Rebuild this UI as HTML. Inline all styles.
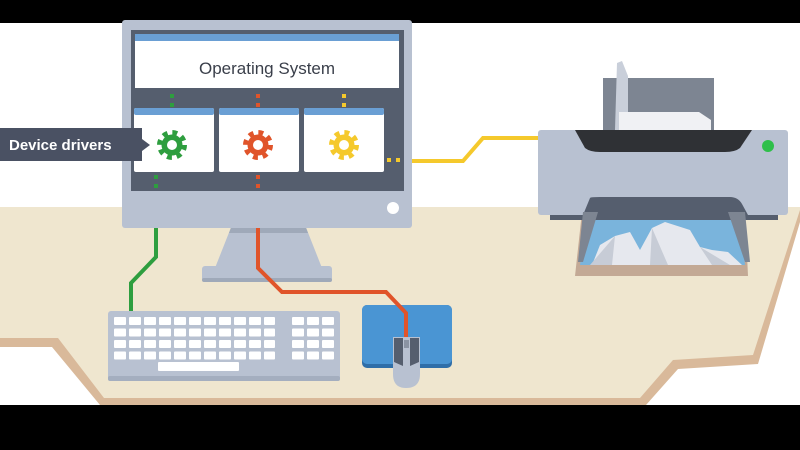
<!DOCTYPE html>
<html><head><meta charset="utf-8"><style>
html,body{margin:0;padding:0;background:#000;}
svg{display:block}
</style></head><body>
<svg width="800" height="450" viewBox="0 0 800 450" xmlns="http://www.w3.org/2000/svg">
<rect x="0" y="23" width="800" height="382" fill="#ffffff"/>
<!-- desk -->
<path d="M0,207 L800,207 L800,222 L758,364 L678,369 L646,405 L100,405 L52,347 L0,347 Z" fill="#d9b99a"/>
<path d="M0,207 L800,207 L800,210 L753,355 L673,360 L640,398 L104,398 L58,338 L0,338 Z" fill="#efe6cf"/>
<!-- monitor stand -->
<path d="M232,225 L305,225 L322,268 L215,268 Z" fill="#b8c1d1"/>
<path d="M232,225 L305,225 L308,233 L229,233 Z" fill="#9fa9b9"/>
<rect x="202" y="266" width="130" height="16" rx="3" fill="#b8c1d1"/>
<rect x="202" y="278" width="130" height="4" rx="2" fill="#9fa9b9"/>
<!-- mousepad -->
<rect x="362" y="305" width="90" height="63" rx="5" fill="#2f6ea8"/>
<rect x="362" y="305" width="90" height="59" rx="5" fill="#4a95d3"/>
<!-- cables -->
<polyline points="156,225 156,257 131,283 131,313" fill="none" stroke="#2e9e3f" stroke-width="4"/>
<polyline points="258,225 258,268 282,292 386,292 406,313 406,345" fill="none" stroke="#e0542a" stroke-width="4"/>
<polyline points="400,161 463,161 483,138 540,138" fill="none" stroke="#f5c92c" stroke-width="4"/>
<!-- monitor -->
<rect x="122" y="20" width="290" height="208" rx="3" fill="#b8c1d1"/>
<rect x="131" y="30" width="273" height="161" fill="#555e6e"/>
<rect x="135" y="34" width="264" height="54" fill="#ffffff"/>
<rect x="135" y="34" width="264" height="7" fill="#6a9fd4"/>
<text x="267" y="74" text-anchor="middle" font-family="Liberation Sans, sans-serif" font-size="17" fill="#3a3f4a">Operating System</text>
<circle cx="393" cy="208" r="6" fill="#fff"/>
<!-- dotted connectors -->
<g stroke-width="4" stroke-dasharray="4,5">
<line x1="172" y1="94" x2="172" y2="108" stroke="#2e9e3f"/>
<line x1="258" y1="94" x2="258" y2="108" stroke="#e0542a"/>
<line x1="344" y1="94" x2="344" y2="108" stroke="#f5c92c"/>
<line x1="156" y1="175" x2="156" y2="191" stroke="#2e9e3f"/>
<line x1="258" y1="175" x2="258" y2="191" stroke="#e0542a"/>
<line x1="387" y1="160" x2="404" y2="160" stroke="#f5c92c"/>
</g>
<!-- driver windows -->
<g>
<rect x="134" y="108" width="80" height="64" rx="2" fill="#fff"/><rect x="134" y="108" width="80" height="7" rx="2" fill="#6a9fd4"/>
<rect x="219" y="108" width="80" height="64" rx="2" fill="#fff"/><rect x="219" y="108" width="80" height="7" rx="2" fill="#6a9fd4"/>
<rect x="304" y="108" width="80" height="64" rx="2" fill="#fff"/><rect x="304" y="108" width="80" height="7" rx="2" fill="#6a9fd4"/>
</g>
<!-- gears -->
<g>
<circle cx="172" cy="145" r="11.5" fill="none" stroke="#2e9e3f" stroke-width="7" stroke-dasharray="4.5,4.53"/>
<circle cx="172" cy="145" r="10.5" fill="#2e9e3f"/><circle cx="172" cy="145" r="5" fill="#fff"/>
<circle cx="258" cy="145" r="11.5" fill="none" stroke="#e0542a" stroke-width="7" stroke-dasharray="4.5,4.53"/>
<circle cx="258" cy="145" r="10.5" fill="#e0542a"/><circle cx="258" cy="145" r="5" fill="#fff"/>
<circle cx="344" cy="145" r="11.5" fill="none" stroke="#f5c92c" stroke-width="7" stroke-dasharray="4.5,4.53"/>
<circle cx="344" cy="145" r="10.5" fill="#f5c92c"/><circle cx="344" cy="145" r="5" fill="#fff"/>
</g>
<!-- label -->
<path d="M0,128 L142,128 L142,139 L150,145 L142,151 L142,161 L0,161 Z" fill="#4a5163"/>
<text x="9" y="150" font-family="Liberation Sans, sans-serif" font-size="15" font-weight="bold" fill="#fff">Device drivers</text>
<!-- keyboard -->
<rect x="108" y="311" width="232" height="70" rx="3" fill="#b8c1d1"/>
<rect x="108" y="376" width="232" height="5" rx="2" fill="#a4aebf"/>
<g fill="#fff">
<g id="row">
<rect x="114" y="317" width="12" height="8" rx="1"/><rect x="129" y="317" width="12" height="8" rx="1"/><rect x="144" y="317" width="12" height="8" rx="1"/><rect x="159" y="317" width="12" height="8" rx="1"/><rect x="174" y="317" width="12" height="8" rx="1"/><rect x="189" y="317" width="12" height="8" rx="1"/><rect x="204" y="317" width="12" height="8" rx="1"/><rect x="219" y="317" width="12" height="8" rx="1"/><rect x="234" y="317" width="12" height="8" rx="1"/><rect x="249" y="317" width="12" height="8" rx="1"/><rect x="264" y="317" width="11" height="8" rx="1"/>
<rect x="292" y="317" width="12" height="8" rx="1"/><rect x="307" y="317" width="12" height="8" rx="1"/><rect x="322" y="317" width="12" height="8" rx="1"/>
</g>
<use href="#row" y="11.5"/><use href="#row" y="23"/><use href="#row" y="34.5"/>
<rect x="158" y="362" width="81" height="9" rx="1"/>
</g>
<!-- mouse -->
<path d="M393,337 L420,337 L420,374 Q420,388 406,388 Q393,388 393,374 Z" fill="#b8c1d1"/>
<path d="M394,338 L403,338 L403,366 L394,362 Z M410,338 L419,338 L419,362 L410,366 Z" fill="#555e6e"/>
<rect x="404" y="340" width="5" height="8" fill="#8a93a3"/>
<!-- printer -->
<rect x="603" y="78" width="111" height="54" fill="#7d8592"/>
<path d="M615,130 L617,63 L622,61 L628,76 L628,130 Z" fill="#c9cfda"/>
<path d="M619,112 L699,112 L711,120 L711,132 L619,132 Z" fill="#f0f1f4"/>
<path d="M582,212 L745,212 L748,276 L575,276 Z" fill="#c3a995"/>
<path d="M588,212 L740,212 L745,265 L580,265 Z" fill="#7ab4dc"/>
<path d="M592,265 L600,245 L615,236 L630,232 L640,250 L652,228 L665,222 L690,230 L700,247 L712,250 L728,252 L742,265 Z" fill="#e6e8ee"/>
<path d="M590,265 L615,236 L612,265 Z M650,265 L652,228 L668,265 Z M700,247 L730,265 L712,265 Z" fill="#c7ccd6"/>
<rect x="538" y="130" width="250" height="85" rx="3" fill="#b8c1d1"/>
<path d="M575,130 L752,130 L740,148 Q735,152 725,152 L600,152 Q590,152 585,148 Z" fill="#2f3135"/>
<circle cx="768" cy="146" r="6" fill="#2ebf4a"/>
<path d="M590,198 Q590,197 600,197 L730,197 Q738,197 742,204 L748,215 L583,215 Z" fill="#555e6e"/>
<path d="M550,215 L778,215 L778,220 L550,220 Z" fill="#555e6e"/>
<path d="M583,212 L598,212 L583,262 L578,262 Z M728,212 L745,212 L750,262 L745,262 Z" fill="#7d8592"/>
</svg>
</body></html>
